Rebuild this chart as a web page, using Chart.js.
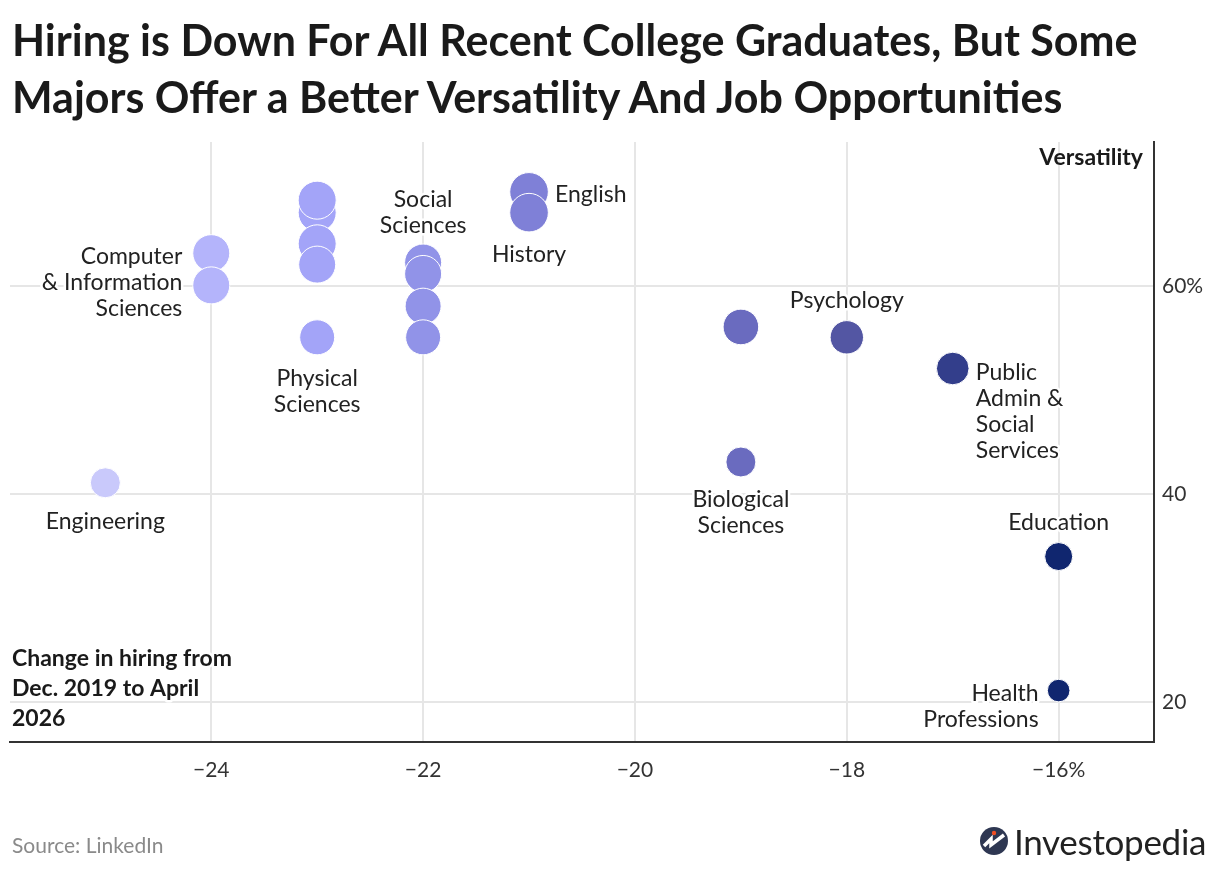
<html>
<head>
<script src="https://cdn.jsdelivr.net/npm/chart.js@4.4.3/dist/chart.umd.min.js"></script>
<style>
    body { margin: 0; background: #fff; font-family: Lato, "Noto Sans", sans-serif; }
    #wrap { position: relative; width: 1220px; height: 870px; overflow: hidden; }
    #mychart { position: absolute; left: 0; top: 0; }
    h1 { position: absolute; left: 12px; top: 11px; margin: 0; font-size: 43px; line-height: 57px; font-weight: 700; color: #1a1a1a; white-space: nowrap; }
    #source { position: absolute; left: 12px; top: 832px; font-size: 21px; color: #8a8a8a; }
    #logo { position: absolute; left: 979px; top: 820px; display: flex; align-items: center; }
    #logo span { font-size: 35px; color: #222; margin-left: 5px; letter-spacing: -0.3px; }
</style>
</head>
<body>
<div id="wrap">
    <canvas id="mychart" width="1220" height="870"></canvas>
    <h1>Hiring is Down For All Recent College Graduates, But Some<br>Majors Offer a Better Versatility And Job Opportunities</h1>
    <div id="source">Source: LinkedIn</div>
    <div id="logo">
        <svg width="30" height="30" viewBox="0 0 30 30">
            <circle cx="15" cy="15" r="14" fill="#2e3752"/>
            <path d="M5 20 L12 13 L12 19 L25 9" stroke="#fff" stroke-width="3.5" fill="none"/>
            <circle cx="15" cy="7" r="2.2" fill="#f04e23"/>
        </svg>
        <span>Investopedia</span>
    </div>
</div>
<script>
    // change in hiring, Dec. 2019 to April 2026 (%)
    let hiringChange = [-25, -24, -24, -23, -23, -23, -23, -23, -22, -22, -22, -22, -21, -21, -19, -19, -18, -17, -16, -16];
    // versatility (%)
    let versatility = [41.1, 63.2, 60.1, 67.1, 68.3, 64.1, 62.1, 55.1, 62.3, 61.2, 58.1, 55.1, 69.1, 67.1, 56.1, 43.1, 55.1, 52.1, 34.0, 21.1];
    let xTicks = [-24, -22, -20, -18, -16];
    let yTicks = [20, 40, 60];

    // marker sizes and colours (style only)
    let radii = [15, 18.5, 18.5, 19, 19, 19, 18.5, 17.5, 18.5, 18.5, 18, 17.5, 19.3, 19.3, 17.8, 15, 16.7, 16.3, 14, 11.3];
    let shades = {
        "-25": "#c9c9fb", "-24": "#b4b4fb", "-23": "#a3a4f8", "-22": "#9193e8", "-21": "#7f80d7",
        "-19": "#6a6bbf", "-18": "#5356a3", "-17": "#333e8b", "-16": "#10266f"
    };

    // labels: point index, lines, pixel offset, alignment
    let notes = [
        { at: 0, lines: ["Engineering"], dx: 0, dy: 39, align: "center" },
        { at: 1, lines: ["Computer", "& Information", "Sciences"], dx: -29, dy: 3, align: "right" },
        { at: 7, lines: ["Physical", "Sciences"], dx: 0, dy: 41, align: "center" },
        { at: 8, lines: ["Social", "Sciences"], dx: 0, dy: -63, align: "center" },
        { at: 12, lines: ["English"], dx: 26, dy: 3, align: "left" },
        { at: 13, lines: ["History"], dx: 0, dy: 42, align: "center" },
        { at: 16, lines: ["Psychology"], dx: 0, dy: -37, align: "center" },
        { at: 15, lines: ["Biological", "Sciences"], dx: 0, dy: 38, align: "center" },
        { at: 17, lines: ["Public", "Admin &", "Social", "Services"], dx: 23, dy: 4, align: "left" },
        { at: 18, lines: ["Education"], dx: 0, dy: -34, align: "center" },
        { at: 19, lines: ["Health", "Professions"], dx: -20, dy: 3, align: "right" }
    ];

    const FONT = "Lato, 'Noto Sans', sans-serif";

    function minus(v) {
        return String(v).replace("-", "\u2212");
    }

    const notePlugin = {
        id: "notes",
        afterDatasetsDraw(chart) {
            let ctx = chart.ctx;
            let xs = chart.scales.x, ys = chart.scales.y;
            ctx.save();
            ctx.textBaseline = "middle";
            ctx.lineJoin = "round";
            ctx.font = "23px " + FONT;
            notes.forEach(n => {
                let px = xs.getPixelForValue(hiringChange[n.at]) + n.dx;
                let py = ys.getPixelForValue(versatility[n.at]) + n.dy;
                ctx.textAlign = n.align;
                n.lines.forEach((t, i) => {
                    ctx.strokeStyle = "#fff";
                    ctx.lineWidth = 5;
                    ctx.strokeText(t, px, py + i * 26);
                    ctx.fillStyle = "#222";
                    ctx.fillText(t, px, py + i * 26);
                });
            });

            ctx.font = "bold 23px " + FONT;
            ctx.fillStyle = "#1a1a1a";
            ctx.textAlign = "right";
            ctx.fillText("Versatility", chart.chartArea.right - 11, chart.chartArea.top + 16);

            ctx.textAlign = "left";
            ["Change in hiring from", "Dec. 2019 to April", "2026"].forEach((t, i) => {
                ctx.strokeStyle = "#fff";
                ctx.lineWidth = 5;
                ctx.strokeText(t, 12, 659 + i * 30);
                ctx.fillText(t, 12, 659 + i * 30);
            });
            ctx.restore();
        }
    };

    let datainfo = {
        datasets: [{
            data: hiringChange.map((x, i) => ({ x: x, y: versatility[i] })),
            pointRadius: c => radii[c.dataIndex],
            pointHoverRadius: c => radii[c.dataIndex],
            backgroundColor: c => shades[String(hiringChange[c.dataIndex])],
            borderColor: "#fff",
            borderWidth: 1
        }]
    };

    let config = {
        type: "scatter",
        data: datainfo,
        plugins: [notePlugin],
        options: {
            responsive: false,
            animation: false,
            events: [],
            layout: { autoPadding: false, padding: { left: 10, top: 142, right: 0, bottom: 0 } },
            plugins: { legend: { display: false }, tooltip: { enabled: false } },
            scales: {
                x: {
                    type: "linear",
                    min: -25.9,
                    max: -15.1,
                    afterBuildTicks: s => { s.ticks = xTicks.map(v => ({ value: v })); },
                    afterFit: s => { s.height = 128; s.paddingLeft = 0; s.paddingRight = 0; },
                    grid: { color: "#e6e6e6", lineWidth: 2, drawTicks: false },
                    border: { display: true, color: "#333", width: 2 },
                    ticks: {
                        padding: 16,
                        color: "#333",
                        font: { family: FONT, size: 21 },
                        callback: v => v === -16 ? minus(v) + "%" : minus(v)
                    }
                },
                y: {
                    type: "linear",
                    position: "right",
                    min: 16.15,
                    max: 73.9,
                    afterBuildTicks: s => { s.ticks = yTicks.map(v => ({ value: v })); },
                    afterFit: s => { s.width = 66; s.paddingTop = 0; s.paddingBottom = 0; },
                    grid: { color: "#e6e6e6", lineWidth: 2, drawTicks: false },
                    border: { display: true, color: "#333", width: 2 },
                    ticks: {
                        padding: 8,
                        color: "#333",
                        font: { family: FONT, size: 21 },
                        callback: v => v === 60 ? v + "%" : String(v)
                    }
                }
            }
        }
    };

    new Chart(document.getElementById("mychart"), config);
</script>
</body>
</html>
